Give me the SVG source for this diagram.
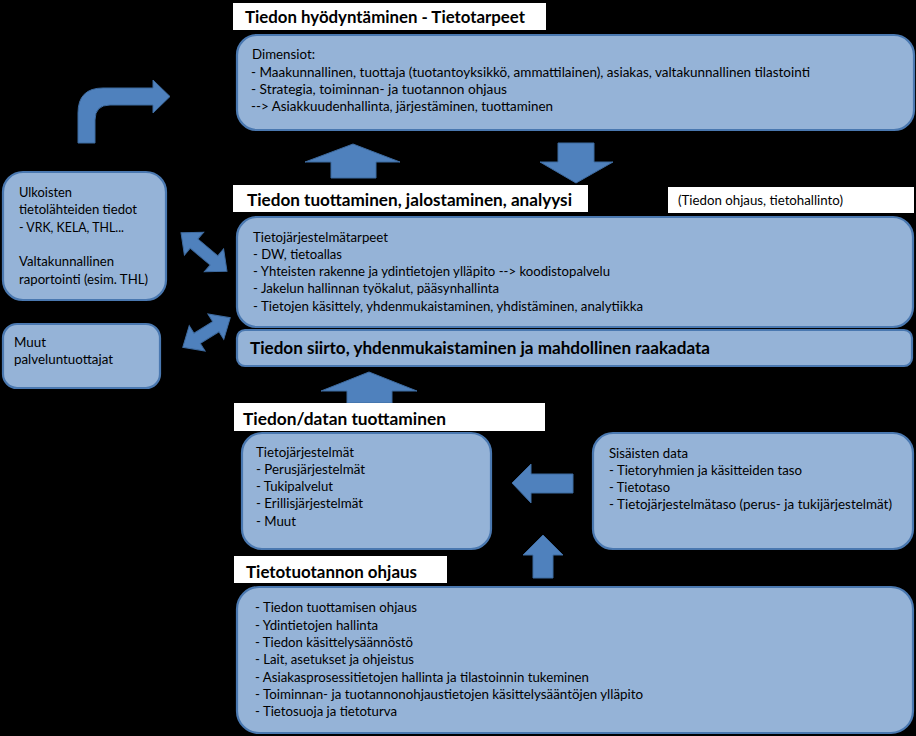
<svg xmlns="http://www.w3.org/2000/svg" width="916" height="736" viewBox="0 0 916 736">
<style>
.bg{fill:#000}
.box{fill:#95b3d7;stroke:#4a78b0;stroke-width:2.2}
.ttl{fill:#fff}
.arr{fill:#4f81bd;stroke:#3d6a9f;stroke-width:1}
text{font-family:Lato,"Liberation Sans",Arial,sans-serif;fill:#000}
.t{font-size:13.5px}
.h{font-size:17.5px;font-weight:bold}
</style>
<rect class="bg" x="0" y="0" width="916" height="736"/>

<g id="connectors">
  <path class="arr" d="M78,143 L78,113 Q78,88 103,88 L153,88 L153,80 L170,96.5 L153,113 L153,105 L110,105 Q95,105 95,120 L95,143 Z"/>
  <path class="arr" d="M353,144 L400,162 L376,162 L376,178 L331,178 L331,162 L305,162 Z"/>
  <path class="arr" d="M558,143 L594,143 L594,162 L613,162 L576,183 L540,162 L558,162 Z"/>
  <path class="arr" transform="translate(204,252) rotate(40)" d="M-30,0 L-13,-15 L-13,-6 L13,-6 L13,-15 L30,0 L13,15 L13,6 L-13,6 L-13,15 Z"/>
  <path class="arr" transform="translate(206.5,332.5) rotate(-32)" d="M-28,0 L-11,-15 L-11,-6 L11,-6 L11,-15 L28,0 L11,15 L11,6 L-11,6 L-11,15 Z"/>
  <path class="arr" d="M369,372 L417,391 L392,391 L392,403 L347,403 L347,391 L321,391 Z"/>
  <path class="arr" d="M512,483 L531,464 L531,474 L573,474 L573,493 L531,493 L531,503 Z"/>
  <path class="arr" d="M543,535 L563,555 L553,555 L553,578 L533,578 L533,555 L523,555 Z"/>
</g>

<g id="title-hyodyntaminen">
  <rect class="ttl" x="233" y="3" width="313" height="27"/>
  <text class="h" x="245" y="23" textLength="280" lengthAdjust="spacingAndGlyphs">Tiedon hyödyntäminen - Tietotarpeet</text>
</g>

<g id="dimensiot">
  <rect class="box" x="237" y="35" width="677" height="95" rx="20"/>
  <text class="t" x="252" y="59" textLength="63" lengthAdjust="spacingAndGlyphs">Dimensiot:</text>
  <text class="t" x="251" y="77" textLength="559" lengthAdjust="spacingAndGlyphs">- Maakunnallinen, tuottaja (tuotantoyksikkö, ammattilainen), asiakas, valtakunnallinen tilastointi</text>
  <text class="t" x="251" y="94" textLength="256" lengthAdjust="spacingAndGlyphs">- Strategia, toiminnan- ja tuotannon ohjaus</text>
  <text class="t" x="251" y="111" textLength="302" lengthAdjust="spacingAndGlyphs">--&gt; Asiakkuudenhallinta, järjestäminen, tuottaminen</text>
</g>

<g id="title-tuottaminen">
  <rect class="ttl" x="233" y="185" width="355" height="27"/>
  <text class="h" x="247" y="206" textLength="325" lengthAdjust="spacingAndGlyphs">Tiedon tuottaminen, jalostaminen, analyysi</text>
</g>

<g id="label-ohjaus">
  <rect class="ttl" x="668" y="187" width="246" height="26"/>
  <text class="t" x="678" y="205" textLength="165" lengthAdjust="spacingAndGlyphs">(Tiedon ohjaus, tietohallinto)</text>
</g>

<g id="tarpeet">
  <rect class="box" x="237" y="217" width="676" height="110" rx="20"/>
  <text class="t" x="253" y="242" textLength="135" lengthAdjust="spacingAndGlyphs">Tietojärjestelmätarpeet</text>
  <text class="t" x="253" y="259" textLength="89" lengthAdjust="spacingAndGlyphs">- DW, tietoallas</text>
  <text class="t" x="253" y="276" textLength="357" lengthAdjust="spacingAndGlyphs">- Yhteisten rakenne ja ydintietojen ylläpito --&gt; koodistopalvelu</text>
  <text class="t" x="253" y="293" textLength="246" lengthAdjust="spacingAndGlyphs">- Jakelun hallinnan työkalut, pääsynhallinta</text>
  <text class="t" x="253" y="311" textLength="390" lengthAdjust="spacingAndGlyphs">- Tietojen käsittely, yhdenmukaistaminen, yhdistäminen, analytiikka</text>
</g>

<g id="siirto">
  <rect class="box" x="237" y="330" width="675" height="36" rx="8"/>
  <text class="h" x="250" y="354" textLength="460" lengthAdjust="spacingAndGlyphs">Tiedon siirto, yhdenmukaistaminen ja mahdollinen raakadata</text>
</g>

<g id="ulkoiset">
  <rect class="box" x="3" y="172" width="163" height="128" rx="20"/>
  <text class="t" x="19" y="197" textLength="53" lengthAdjust="spacingAndGlyphs">Ulkoisten</text>
  <text class="t" x="19" y="214" textLength="118" lengthAdjust="spacingAndGlyphs">tietolähteiden tiedot</text>
  <text class="t" x="19" y="232" textLength="105" lengthAdjust="spacingAndGlyphs">- VRK, KELA, THL...</text>
  <text class="t" x="19" y="266" textLength="95" lengthAdjust="spacingAndGlyphs">Valtakunnallinen</text>
  <text class="t" x="19" y="284" textLength="129" lengthAdjust="spacingAndGlyphs">raportointi (esim. THL)</text>
</g>

<g id="muut">
  <rect class="box" x="3" y="324" width="157" height="64" rx="14"/>
  <text class="t" x="14" y="347" textLength="32" lengthAdjust="spacingAndGlyphs">Muut</text>
  <text class="t" x="14" y="364" textLength="99" lengthAdjust="spacingAndGlyphs">palveluntuottajat</text>
</g>

<g id="title-datan">
  <rect class="ttl" x="234" y="403" width="311" height="28"/>
  <text class="h" x="243" y="425" textLength="203" lengthAdjust="spacingAndGlyphs">Tiedon/datan tuottaminen</text>
</g>

<g id="tietojarjestelmat">
  <rect class="box" x="242" y="433" width="249" height="116" rx="20"/>
  <text class="t" x="256" y="457" textLength="98" lengthAdjust="spacingAndGlyphs">Tietojärjestelmät</text>
  <text class="t" x="256" y="474" textLength="109" lengthAdjust="spacingAndGlyphs">- Perusjärjestelmät</text>
  <text class="t" x="256" y="491" textLength="77" lengthAdjust="spacingAndGlyphs">- Tukipalvelut</text>
  <text class="t" x="256" y="508" textLength="107" lengthAdjust="spacingAndGlyphs">- Erillisjärjestelmät</text>
  <text class="t" x="256" y="526" textLength="40" lengthAdjust="spacingAndGlyphs">- Muut</text>
</g>

<g id="sisaiset">
  <rect class="box" x="593" y="433" width="320" height="116" rx="20"/>
  <text class="t" x="609" y="458" textLength="79" lengthAdjust="spacingAndGlyphs">Sisäisten data</text>
  <text class="t" x="609" y="475" textLength="193" lengthAdjust="spacingAndGlyphs">- Tietoryhmien ja käsitteiden taso</text>
  <text class="t" x="609" y="492" textLength="61" lengthAdjust="spacingAndGlyphs">- Tietotaso</text>
  <text class="t" x="609" y="509" textLength="283" lengthAdjust="spacingAndGlyphs">- Tietojärjestelmätaso (perus- ja tukijärjestelmät)</text>
</g>

<g id="title-ohjaus">
  <rect class="ttl" x="234" y="556" width="213" height="27"/>
  <text class="h" x="246" y="578" textLength="171" lengthAdjust="spacingAndGlyphs">Tietotuotannon ohjaus</text>
</g>

<g id="ohjaus">
  <rect class="box" x="237" y="587" width="676" height="146" rx="22"/>
  <text class="t" x="255" y="612" textLength="162" lengthAdjust="spacingAndGlyphs">- Tiedon tuottamisen ohjaus</text>
  <text class="t" x="255" y="630" textLength="123" lengthAdjust="spacingAndGlyphs">- Ydintietojen hallinta</text>
  <text class="t" x="255" y="647" textLength="158" lengthAdjust="spacingAndGlyphs">- Tiedon käsittelysäännöstö</text>
  <text class="t" x="255" y="664" textLength="159" lengthAdjust="spacingAndGlyphs">- Lait, asetukset ja ohjeistus</text>
  <text class="t" x="255" y="682" textLength="334" lengthAdjust="spacingAndGlyphs">- Asiakasprosessitietojen hallinta ja tilastoinnin tukeminen</text>
  <text class="t" x="255" y="699" textLength="388" lengthAdjust="spacingAndGlyphs">- Toiminnan- ja tuotannonohjaustietojen käsittelysääntöjen ylläpito</text>
  <text class="t" x="255" y="716" textLength="142" lengthAdjust="spacingAndGlyphs">- Tietosuoja ja tietoturva</text>
</g>
</svg>
